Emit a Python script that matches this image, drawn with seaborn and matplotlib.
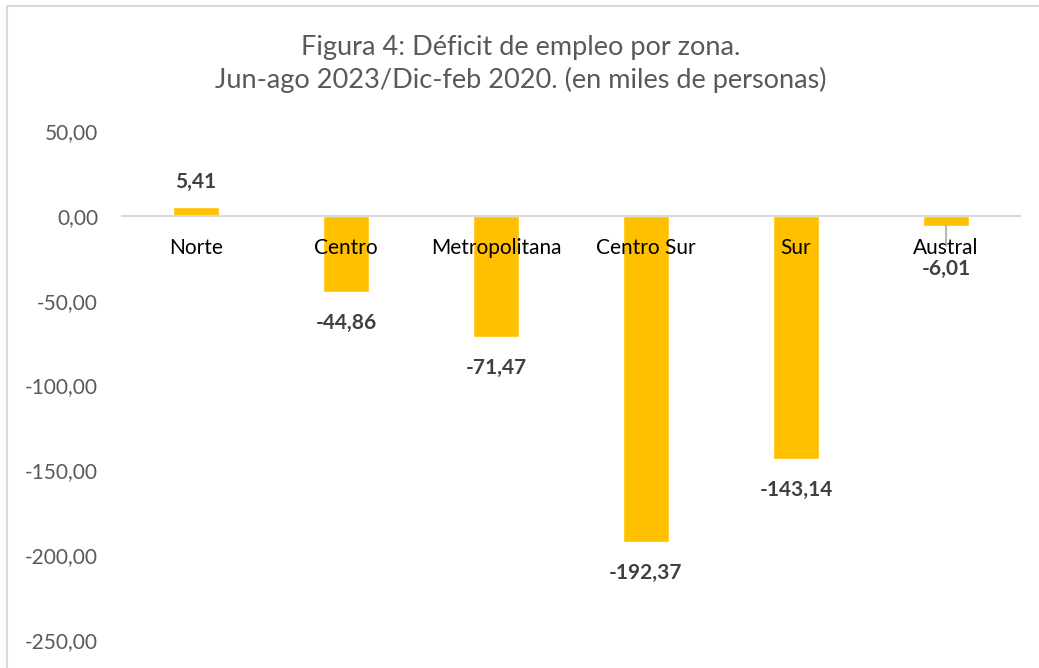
import matplotlib
matplotlib.use("Agg")
import matplotlib.pyplot as plt
import seaborn as sns
import pandas as pd
from matplotlib.patches import Rectangle
from matplotlib.lines import Line2D

categories = ["Norte", "Centro", "Metropolitana", "Centro Sur", "Sur", "Austral"]
values = [5.41, -44.86, -71.47, -192.37, -143.14, -6.01]
yticks = [50, 0, -50, -100, -150, -200, -250]
title = "Figura 4: Déficit de empleo por zona.\nJun-ago 2023/Dic-feb 2020. (en miles de personas)"

sns.set_theme(style="white")
plt.rcParams["font.family"] = ["Lato", "DejaVu Sans"]

W, H = 1039, 668
fig = plt.figure(figsize=(W / 100, H / 100), dpi=100)
ax = fig.add_axes([121 / W, 1 - 640 / H, 900 / W, (640 - 131) / H])

df = pd.DataFrame({"zona": categories, "valor": values})
sns.barplot(data=df, x="zona", y="valor", color="#FFC000", saturation=1,
            width=0.31, ax=ax)

ax.set_ylim(-250, 50)
ax.set_xlim(-0.5, len(categories) - 0.5)
ax.set_yticks(yticks)
ax.set_yticklabels([f"{t:.2f}".replace(".", ",") for t in yticks])
ax.tick_params(axis="y", length=0, pad=16.5, labelsize=15, labelcolor="#595959")
ax.set_xticks([])
ax.set_xlabel("")
ax.set_ylabel("")
for s in ax.spines.values():
    s.set_visible(False)
ax.axhline(0, color="#D9D9D9", lw=1.5, zorder=1)

gray = "#404040"
for i, (c, v) in enumerate(zip(categories, values)):
    ax.annotate(c, xy=(i, 0), xytext=(0, -32), textcoords="offset pixels",
                ha="center", va="center", fontsize=15, color="black", zorder=5)
    lab = f"{v:.2f}".replace(".", ",")
    if v >= 0:
        off = 25
    elif c == "Austral":
        off = -43
        ax.annotate("", xy=(i, v), xytext=(0, -20), textcoords="offset pixels",
                    arrowprops=dict(arrowstyle="-", color="#A6A6A6", lw=1.2,
                                    shrinkA=0, shrinkB=0))
    else:
        off = -31
    ax.annotate(lab, xy=(i, v), xytext=(0, off), textcoords="offset pixels",
                ha="center", va="center", fontsize=15, fontweight="bold",
                color=gray, zorder=5)

fig.text(521 / W, 1 - 64 / H, title, ha="center", va="center", fontsize=19.5,
         color="#595959", linespacing=1.32)

fig.patches.append(Rectangle((7 / W, -0.1), 1.2, 1 - 6 / H + 0.1,
                             transform=fig.transFigure, fill=False,
                             edgecolor="#D9D9D9", lw=1.5))

fig.savefig("out.png", dpi=100)
